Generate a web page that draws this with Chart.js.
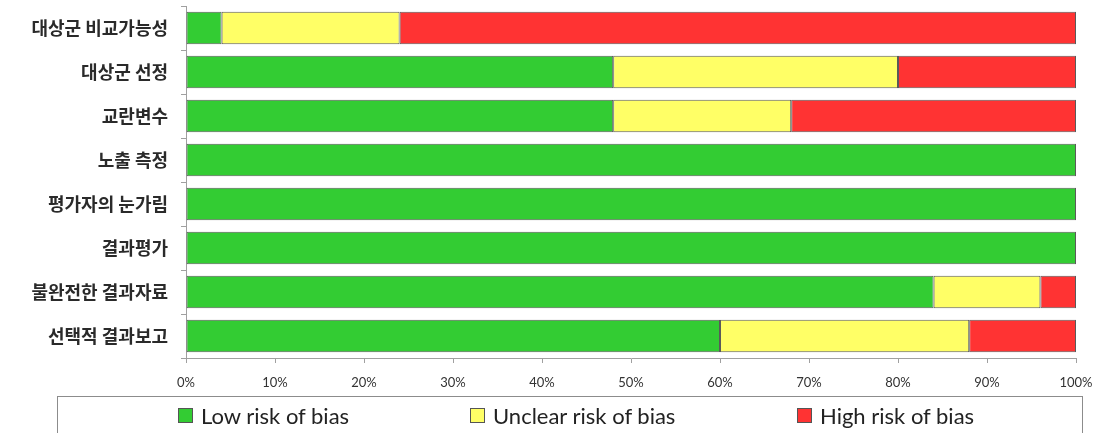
<!DOCTYPE html>
<html>
<head>
<meta charset="utf-8">
<script src="https://cdn.jsdelivr.net/npm/chart.js@4"></script>
<style>
  html, body { margin: 0; padding: 0; background: #fff; }
  #wrap { position: relative; width: 1098px; height: 433px; overflow: hidden; }
  #legend {
    position: absolute; left: 57px; top: 396px; width: 1026px; height: 50px;
    border: 1px solid #8c8c8c; box-sizing: border-box;
    font-family: Lato, "Open Sans", sans-serif; font-size: 22px; color: #222;
  }
  #legend .item { position: absolute; top: 5px; display: flex; align-items: center; height: 26px; white-space: nowrap; }
  #legend .item:nth-child(1) { left: 120px; }
  #legend .item:nth-child(2) { left: 412px; }
  #legend .item:nth-child(3) { left: 739px; }
  #legend .box { width: 13px; height: 13px; border: 1px solid #555; margin-right: 8px; }
</style>
</head>
<body>
<div id="wrap">
  <canvas id="graphCanvas" width="1098" height="433"></canvas>
  <div id="legend"></div>
</div>
<script>
// 항목 (위에서 아래 순서)
const categories = [
  "대상군 비교가능성",
  "대상군 선정",
  "교란변수",
  "노출 측정",
  "평가자의 눈가림",
  "결과평가",
  "불완전한 결과자료",
  "선택적 결과보고",
];
const lowRisk = [4, 48, 48, 100, 100, 100, 84, 60];
const unclearRisk = [20, 32, 20, 0, 0, 0, 12, 28];
const highRisk = [76, 20, 32, 0, 0, 0, 4, 12];
const xTicks = [0, 10, 20, 30, 40, 50, 60, 70, 80, 90, 100];

const seriesLabels = ["Low risk of bias", "Unclear risk of bias", "High risk of bias"];
const seriesColors = ["#33cc33", "#ffff66", "#ff3333"];

const makeSet = (i, values) => ({
  label: seriesLabels[i],
  data: values,
  backgroundColor: seriesColors[i],
  borderColor: "#5a5a5a",
  borderWidth: 1,
  borderSkipped: false,
  barPercentage: 0.74,
  categoryPercentage: 1.0,
});

const ctx = document.getElementById("graphCanvas").getContext("2d");
const graphChart = new Chart(ctx, {
  type: "bar",
  data: {
    labels: categories,
    datasets: [makeSet(0, lowRisk), makeSet(1, unclearRisk), makeSet(2, highRisk)],
  },
  options: {
    indexAxis: "y",
    responsive: false,
    animation: false,
    layout: { padding: { top: 6, right: 22, bottom: 45, left: 0 } },
    plugins: {
      legend: { display: false },
      tooltip: { enabled: false },
    },
    scales: {
      x: {
        stacked: true,
        min: 0,
        max: 100,
        afterBuildTicks: (axis) => {
          axis.ticks = xTicks.map((v) => ({ value: v }));
        },
        afterFit: (axis) => {
          axis.height = 30;
          axis.paddingLeft = 0;
          axis.paddingRight = 0;
        },
        border: { color: "#a0a0a0", width: 1 },
        grid: {
          drawOnChartArea: false,
          drawTicks: true,
          tickLength: 5,
          color: "#a0a0a0",
        },
        ticks: {
          padding: 12,
          maxRotation: 0,
          color: "#333",
          font: { family: "Lato, 'Open Sans', sans-serif", size: 13 },
          callback: (v) => v + "%",
        },
      },
      y: {
        stacked: true,
        afterFit: (axis) => {
          axis.width = 186;
          axis.paddingTop = 0;
          axis.paddingBottom = 0;
        },
        border: { color: "#a0a0a0", width: 1 },
        grid: {
          offset: true,
          drawOnChartArea: false,
          drawTicks: true,
          tickLength: 5,
          color: "#a0a0a0",
        },
        ticks: {
          padding: 13,
          color: "#2a2a2a",
          font: { family: "'Noto Sans CJK KR', sans-serif", size: 18, weight: "bold" },
        },
      },
    },
  },
});

// 범례
const legendEl = document.getElementById("legend");
graphChart.data.datasets.forEach((ds) => {
  const item = document.createElement("div");
  item.className = "item";
  const box = document.createElement("span");
  box.className = "box";
  box.style.background = ds.backgroundColor;
  const txt = document.createElement("span");
  txt.textContent = ds.label;
  item.appendChild(box);
  item.appendChild(txt);
  legendEl.appendChild(item);
});
</script>
</body>
</html>
